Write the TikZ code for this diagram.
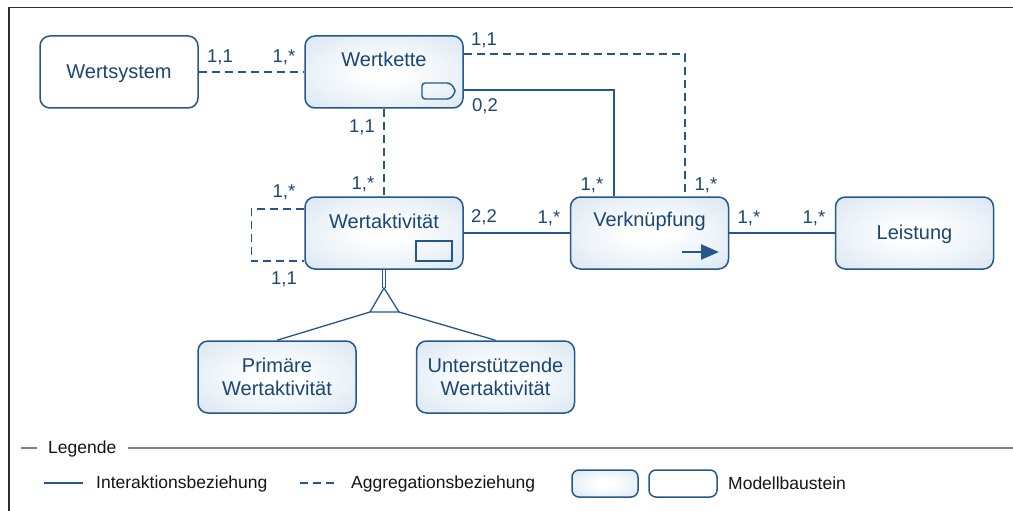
\documentclass[tikz,border=0pt]{standalone}
\usepackage{fontspec}
\setmainfont{Liberation Sans}
\usetikzlibrary{arrows.meta,calc}

\definecolor{edge}{RGB}{36,88,140}
\definecolor{ink}{RGB}{26,70,116}
\definecolor{boxout}{RGB}{221,232,242}
\definecolor{boxmid}{RGB}{238,244,249}
\definecolor{framecol}{RGB}{45,45,45}
\definecolor{legline}{RGB}{130,130,130}
\definecolor{legtext}{RGB}{20,20,20}

% soft glow: white centre fading to pale blue towards the border
\pgfdeclareradialshading{boxglow}{\pgfpoint{0bp}{0bp}}{%
  color(0bp)=(white); color(6bp)=(white); color(20bp)=(boxmid);
  color(34bp)=(boxout); color(50bp)=(boxout)}

\tikzset{
  mbox/.style={draw=edge, line width=1.5pt, rounded corners=10pt,
    minimum width=158pt, minimum height=72pt, inner sep=0pt,
    text=ink, font=\fontsize{20}{24}\selectfont, align=center},
  oneline/.style={text height=18pt, text depth=4.2pt},
  shaded box/.style={mbox, shading=boxglow},
  plain box/.style={mbox, fill=white},
  boxtext/.style={text=ink, font=\fontsize{20}{24}\selectfont, inner sep=0pt},
  card/.style={text=ink, font=\fontsize{18.5}{22}\selectfont, inner sep=0pt},
  interaction/.style={draw=edge, line width=1.3pt},
  aggregation/.style={draw=edge, line width=1.3pt, dash pattern=on 8pt off 5pt},
  legtxt/.style={text=legtext, font=\fontsize{17.5}{21}\selectfont, inner sep=0pt, anchor=west},
}

\begin{document}
\begin{tikzpicture}[x=1pt, y=-1pt]
\useasboundingbox (0,0) rectangle (1013,511);

% outer frame
\draw[framecol, line width=1.3pt] (9,511) -- (9,7.5) -- (1013,7.5);

% model building blocks
\node[plain box, oneline]  (ws) at (119,72)    {Wertsystem};
\node[shaded box] (wk) at (384,72)    {};
\node[shaded box] (wa) at (384,233)   {};
\node[shaded box] (vk) at (649.5,233) {};
\node[shaded box, oneline] (le) at (914.5,233) {Leistung};
\node[shaded box] (pw) at (277,377)   {Primäre\\[-1pt]Wertaktivität};
\node[shaded box] (uw) at (495.5,377) {Unterstützende\\[-1pt]Wertaktivität};

\node[boxtext] (wkt) at (384,59.5)   {Wertkette};
\node[boxtext] (wat) at (384,221)  {Wertaktivität};
\node[boxtext] (vkt) at (649.5,221.5) {Verknüpfung};

% block symbols
\draw[edge, line width=1.4pt, rounded corners=3pt]
  (422,83) -- (450,83) -- (455,89) -- (455,93) -- (450,99) -- (422,99) -- cycle;
\draw[edge, line width=1.4pt] (416,241) rectangle (452,261);
\draw[edge, line width=2.4pt, -{Triangle[length=18pt,width=15pt]}] (682,252) -- (719,252);

% relations
\draw[aggregation] (ws.east) -- (wk.west);
\draw[aggregation] ($(wk.east)+(0,-18)$) -| ($(vk.north)+(35.5,0)$);
\draw[interaction] ($(wk.east)+(0,18)$) -| ($(vk.north)+(-35.5,0)$);
\draw[aggregation] (wk.south) -- (wa.north);
\draw[aggregation] ($(wa.west)+(0,-24)$) -- ++(-53,0) |- ($(wa.west)+(0,28)$);
\draw[interaction] (wa.east) -- (vk.west);
\draw[interaction] (vk.east) -- (le.west);

% specialisation
\coordinate (apex) at (384,288);
\coordinate (bl) at (370,312);
\coordinate (br) at (399,312);
\draw[draw=edge, line width=1.1pt, double=white, double distance=2.4pt] (wa.south) -- (apex);
\draw[interaction, line join=miter] (apex) -- (bl) -- (br) -- cycle;
\draw[interaction] (bl) -- (pw.north);
\draw[interaction] (br) -- (uw.north);

% cardinalities
\node[card] at (220,57)  {1,1};
\node[card] at (284,57)  {1,*};
\node[card] at (484,40)  {1,1};
\node[card] at (485,106) {0,2};
\node[card] at (362,127) {1,1};
\node[card] at (363,184) {1,*};
\node[card] at (284,192) {1,*};
\node[card] at (284,279) {1,1};
\node[card] at (484,217) {2,2};
\node[card] at (549,218) {1,*};
\node[card] at (592,185) {1,*};
\node[card] at (706,185) {1,*};
\node[card] at (749,218) {1,*};
\node[card] at (814,218) {1,*};

% legend
\draw[legline, line width=1.2pt] (21,448) -- (37,448);
\node[legtxt] (leg) at (48,448.5) {Legende};
\draw[legline, line width=1.2pt] (128,448) -- (1013,448);

\draw[interaction] (44,483) -- (83,483);
\node[legtxt] (li) at (96,483.5) {Interaktionsbeziehung};
\draw[aggregation] (300,483) -- (337,483);
\node[legtxt] (la) at (351,483.5) {Aggregationsbeziehung};
\draw[edge, line width=1.5pt, rounded corners=7pt, shading=boxglow] (572,470) rectangle (638,497);
\draw[edge, line width=1.5pt, rounded corners=7pt, fill=white] (649,470) rectangle (717,497);
\node[legtxt] (lm) at (728,483.5) {Modellbaustein};
\end{tikzpicture}
\end{document}
